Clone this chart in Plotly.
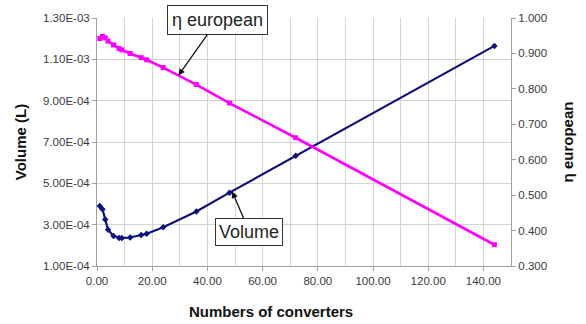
import plotly.graph_objects as go

# Number of converters (divisors of 144)
converters = [1, 2, 3, 4, 6, 8, 9, 12, 16, 18, 24, 36, 48, 72, 144]
# Total volume in litres
volume = [3.90e-4, 3.75e-4, 3.25e-4, 2.75e-4, 2.45e-4, 2.36e-4, 2.35e-4, 2.38e-4,
          2.50e-4, 2.56e-4, 2.88e-4, 3.64e-4, 4.55e-4, 6.33e-4, 1.165e-3]
# European efficiency
eta_eu = [0.942, 0.948, 0.944, 0.935, 0.924, 0.914, 0.910, 0.900,
          0.888, 0.882, 0.860, 0.812, 0.760, 0.662, 0.360]

vol_ticks = [1.0e-4, 3.0e-4, 5.0e-4, 7.0e-4, 9.0e-4, 1.1e-3, 1.3e-3]
vol_labels = ["1.00E-04", "3.00E-04", "5.00E-04", "7.00E-04", "9.00E-04", "1.10E-03", "1.30E-03"]

FONT = "Arial, Liberation Sans, sans-serif"
NAVY = "#10107a"
MAGENTA = "#ff00ff"
GRID = "#d4d4d4"
AXIS = "#a0a0a0"
TICK_FONT = dict(size=11.5, color="#3a3a3a")

fig = go.Figure()
fig.add_trace(go.Scatter(
    x=converters, y=volume, mode="lines+markers", name="Volume",
    line=dict(color=NAVY, width=2.2),
    marker=dict(symbol="diamond", size=5, color=NAVY),
    yaxis="y"))
fig.add_trace(go.Scatter(
    x=converters, y=eta_eu, mode="lines+markers", name="η european",
    line=dict(color=MAGENTA, width=2.6),
    marker=dict(symbol="square", size=5, color=MAGENTA),
    yaxis="y2"))

fig.update_layout(
    width=586, height=324,
    margin=dict(l=97, r=69, t=16, b=58),
    paper_bgcolor="white", plot_bgcolor="white",
    showlegend=False,
    font=dict(family=FONT, size=12, color="#333333"),
    xaxis=dict(
        range=[0, 150], tickvals=[0, 20, 40, 60, 80, 100, 120, 140],
        tickformat=".2f", showgrid=True, gridcolor=GRID, gridwidth=1,
        minor=dict(dtick=10, tick0=0, showgrid=True, gridcolor=GRID, ticks=""),
        showline=True, linecolor=AXIS, linewidth=1,
        ticks="outside", ticklen=4, tickcolor=AXIS,
        zeroline=False, tickfont=TICK_FONT,
    ),
    yaxis=dict(
        range=[1.0e-4, 1.3e-3], tickvals=vol_ticks, ticktext=vol_labels,
        showgrid=True, gridcolor=GRID, gridwidth=1,
        showline=True, linecolor=AXIS, linewidth=1,
        ticks="outside", ticklen=4, tickcolor=AXIS, zeroline=False,
        title=dict(text="<b>Volume (L)</b>", font=dict(size=15, color="#111111"), standoff=12),
        tickfont=TICK_FONT,
    ),
    yaxis2=dict(
        range=[0.3, 1.0], dtick=0.1, tick0=0.3, tickformat=".3f",
        overlaying="y", side="right", showgrid=False,
        showline=True, linecolor=AXIS, linewidth=1,
        ticks="outside", ticklen=4, tickcolor=AXIS, zeroline=False,
        title=dict(text="<b>η european</b>", font=dict(size=15, color="#111111"), standoff=16),
        tickfont=TICK_FONT,
    ),
)

# X-axis title
fig.add_annotation(
    text="<b>Numbers of converters</b>", xref="paper", yref="paper",
    x=(274 - 97) / 420, y=-46 / 250, xanchor="center", yanchor="middle",
    showarrow=False, font=dict(size=15, color="#111111"))

# Callout boxes with arrows
fig.add_annotation(
    text="η european", x=29.5, y=0.838, xref="x", yref="y2",
    ax=39, ay=-55, showarrow=True, arrowhead=2, arrowsize=1, arrowwidth=1.3,
    arrowcolor="#111111", bgcolor="white", bordercolor="#333333", borderwidth=1,
    borderpad=4, font=dict(size=18, color="#222222"))
fig.add_annotation(
    text="Volume", x=49, y=4.6e-4, xref="x", yref="y",
    ax=17, ay=40, showarrow=True, arrowhead=2, arrowsize=1, arrowwidth=1.3,
    arrowcolor="#111111", bgcolor="white", bordercolor="#333333", borderwidth=1,
    borderpad=3, font=dict(size=18, color="#222222"))

fig.write_html("out.html")
